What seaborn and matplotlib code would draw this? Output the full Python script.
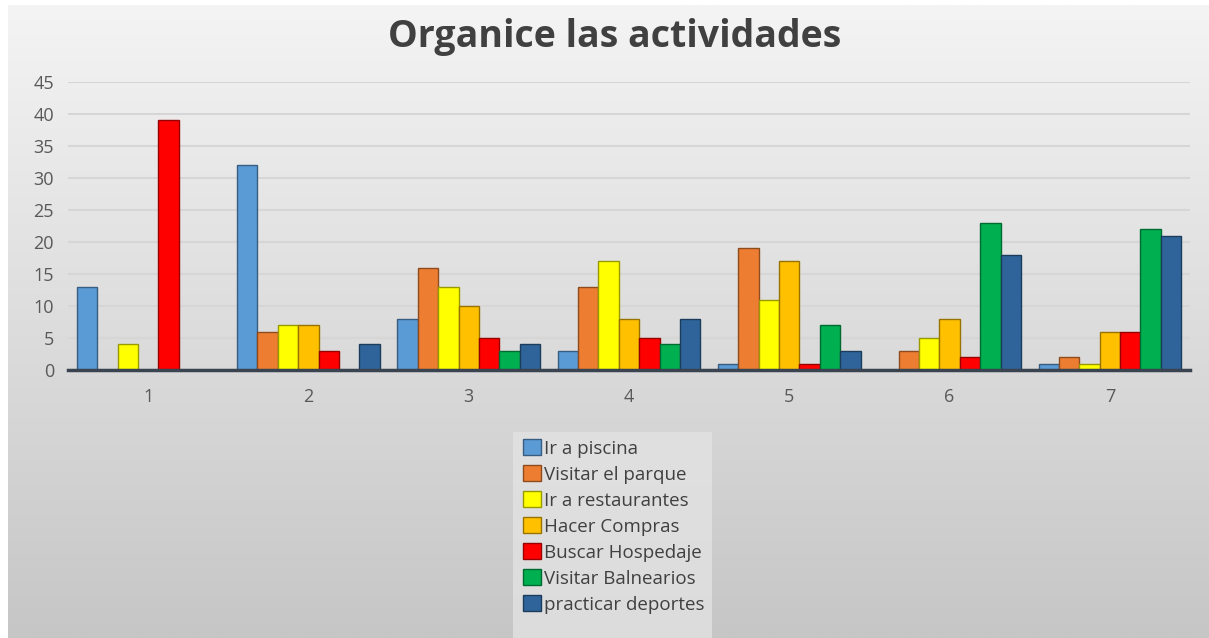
import matplotlib.pyplot as plt
import matplotlib.colors as mcolors
from matplotlib.patches import Rectangle
import seaborn as sns
import pandas as pd
import numpy as np

grupos = ["1", "2", "3", "4", "5", "6", "7"]
actividades = ["Ir a piscina", "Visitar el parque", "Ir a restaurantes", "Hacer Compras",
               "Buscar Hospedaje", "Visitar Balnearios", "practicar deportes"]
piscina = [13, 32, 8, 3, 1, 0, 1]
parque = [0, 6, 16, 13, 19, 3, 2]
restaurantes = [4, 7, 13, 17, 11, 5, 1]
compras = [0, 7, 10, 8, 17, 8, 6]
hospedaje = [39, 3, 5, 5, 1, 2, 6]
balnearios = [0, 0, 3, 4, 7, 23, 22]
deportes = [0, 4, 4, 8, 3, 18, 21]
colores = ["#5B9BD5", "#ED7D31", "#FFFF00", "#FFC000", "#FF0000", "#00B050", "#2E6499"]

series = [piscina, parque, restaurantes, compras, hospedaje, balnearios, deportes]
df = pd.DataFrame([(g, a, v[i]) for a, v in zip(actividades, series) for i, g in enumerate(grupos)],
                  columns=["grupo", "actividad", "valor"])

plt.rcParams["font.family"] = ["Open Sans", "DejaVu Sans"]

fig = plt.figure(figsize=(12.09, 6.38), dpi=100)
fig.patch.set_facecolor("white")

# background gradient (Excel-like)
bg = fig.add_axes([8 / 1209, 0, 1 - 8 / 1209, 1 - 5 / 638], zorder=-10)
grad = np.linspace(0, 1, 256).reshape(-1, 1)
cmap = mcolors.LinearSegmentedColormap.from_list("bg", ["#f4f4f4", "#c6c6c6"])
bg.imshow(grad, aspect="auto", cmap=cmap, extent=[0, 1, 0, 1], origin="upper")
bg.axis("off")

# lighter panel behind the legend
fig.patches.append(Rectangle((513 / 1209, 0), (712 - 513) / 1209, (638 - 432) / 638,
                             transform=fig.transFigure, facecolor="#e4e4e4",
                             edgecolor="none", alpha=0.75, zorder=-5))

ax = fig.add_axes([68 / 1209, 1 - 370 / 638, (1190 - 68) / 1209, (370 - 82) / 638])
ax.set_facecolor("none")
sns.barplot(data=df, x="grupo", y="valor", hue="actividad", palette=colores,
            width=0.89, saturation=1, ax=ax, legend=True)

for patch in ax.patches:
    fc = np.array(mcolors.to_rgb(patch.get_facecolor()))
    patch.set_edgecolor(fc * 0.6)
    patch.set_linewidth(1)

ax.set_ylim(0, 45)
ax.set_xlim(-0.5, 6.5)
ax.set_yticks(range(0, 46, 5))
ax.yaxis.grid(True, color="#d6d6d6", linewidth=1.5)
ax.set_axisbelow(True)
for s in ["top", "right", "left"]:
    ax.spines[s].set_visible(False)
ax.spines["bottom"].set_color("#3a4450")
ax.spines["bottom"].set_linewidth(2.5)
ax.tick_params(length=0, labelsize=13, colors="#595959")
ax.tick_params(axis="y", pad=10)
ax.tick_params(axis="x", pad=13)
ax.set_xlabel("")
ax.set_ylabel("")

handles, labels = ax.get_legend_handles_labels()
ax.legend_.remove()
leg = fig.legend(handles, labels, loc="upper left", bbox_to_anchor=(510 / 1209, 1 - 426 / 638),
                 frameon=False, fontsize=13.5, handlelength=0.95, handleheight=0.95,
                 handletextpad=0.15, labelspacing=0.4, borderpad=0.2,
                 labelcolor="#404040")

fig.text(0.508, 0.942, "Organice las actividades", ha="center", va="center",
         fontsize=27, fontweight="bold", color="#404040")

plt.savefig("out.png", dpi=100)
